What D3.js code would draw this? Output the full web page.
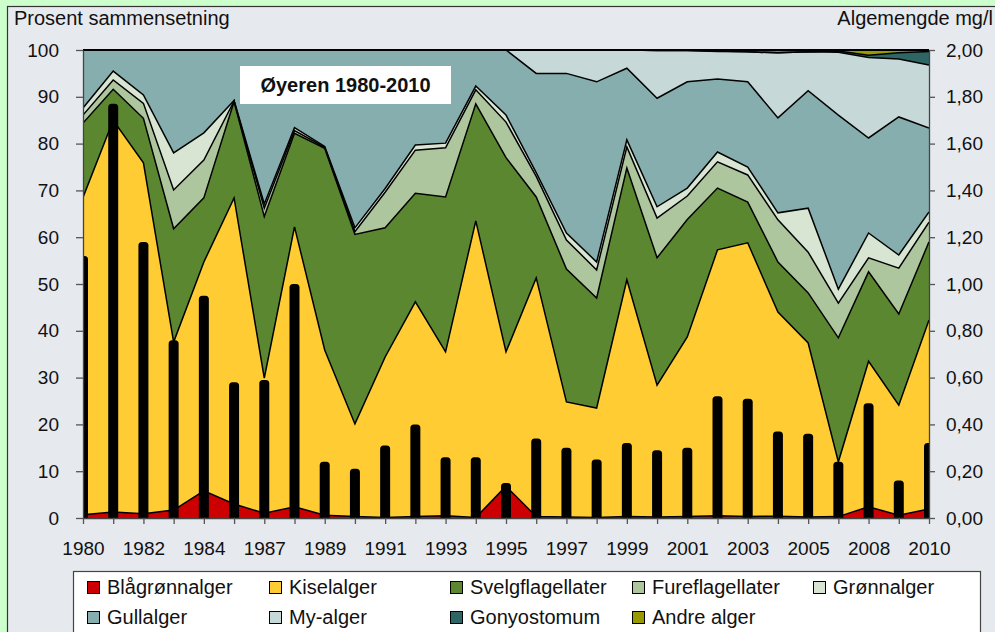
<!DOCTYPE html>
<html>
<head>
<meta charset="utf-8">
<script src="https://cdn.jsdelivr.net/npm/d3@7"></script>
<style>
  body { margin: 0; background: #CCFFCC; }
  svg { display: block; font-family: "Liberation Sans", Arial, sans-serif; }
</style>
</head>
<body>
<div id="chart"></div>
<script>
// years (category axis, every other one labelled)
const years = [1980,1981,1982,1983,1984,1985,1987,1988,1989,1990,1991,1992,1993,1994,1995,
  1996,1997,1998,1999,2000,2001,2002,2003,2004,2005,2006,2008,2009,2010];

// percent composition per group
const blagronnalger = [0.7,1.3,0.9,1.7,5.8,3.0,1.0,2.4,0.6,0.3,0.1,0.3,0.5,0.1,6.8,0.3,0.2,0.1,0.3,0.2,0.3,0.5,0.3,0.4,0.2,0.3,2.4,0.6,1.9];
const kiselalger = [67.8,83.7,75.0,35.9,48.9,65.4,28.9,59.8,35.3,19.8,34.3,45.9,35.0,63.4,28.7,51.0,24.6,23.4,50.6,28.2,38.4,56.8,58.5,43.6,37.2,11.7,31.1,23.5,40.4];
const svelgflagellater = [15.9,6.6,9.5,24.2,13.7,20.6,34.5,20.0,43.1,40.5,27.6,23.2,33.1,25.0,41.5,17.3,28.4,23.5,23.9,27.2,25.1,13.2,8.7,10.7,10.7,26.5,19.1,19.5,16.7];
const fureflagellater = [1.7,2.0,3.2,8.3,8.1,0.1,1.8,0.6,0.2,0.6,7.6,9.2,10.5,3.0,7.6,4.4,6.2,6.0,4.5,8.5,5.0,5.6,5.8,9.0,8.7,7.4,3.0,9.8,4.2];
const gronnalger = [1.5,1.9,1.8,7.9,5.8,0.1,0.9,0.6,0.2,0.8,0.8,1.1,1.0,0.8,1.5,0.8,1.5,1.7,1.5,2.4,1.7,2.1,1.7,1.5,9.4,3.0,5.3,2.8,2.2];
const gullalger = [12.4,4.5,9.6,22.0,17.7,10.8,32.9,16.6,20.6,38.0,29.6,20.3,19.9,7.7,13.9,21.2,34.1,38.5,15.3,23.2,22.7,15.6,18.2,20.3,25.1,37.2,20.3,29.5,17.9];
const myalger = [0,0,0,0,0,0,0,0,0,0,0,0,0,0,0,5.0,5.0,6.8,3.9,10.2,6.7,5.9,6.4,13.9,8.3,13.4,17.2,12.4,13.5];
const gonyostomum = [0,0,0,0,0,0,0,0,0,0,0,0,0,0,0,0,0,0,0,0,0,0.1,0,0,0,0.3,0.5,1.3,2.9];
const andrealger = [0,0,0,0,0,0,0,0,0,0,0,0,0,0,0,0,0,0,0,0.1,0.1,0.2,0.4,0.6,0.4,0.2,1.1,0.6,0.3];

// total algae amount, mg/l (right axis, black bars)
const algemengde = [1.12,1.77,1.18,0.76,0.95,0.58,0.59,1.00,0.24,0.21,0.31,0.40,0.26,0.26,0.15,0.34,0.30,0.25,0.32,0.29,0.30,0.52,0.51,0.37,0.36,0.24,0.49,0.16,0.32];

const groups = [
  { key: 'Blågrønnalger', values: blagronnalger, color: '#CC0000' },
  { key: 'Kiselalger', values: kiselalger, color: '#FFCC33' },
  { key: 'Svelgflagellater', values: svelgflagellater, color: '#5B8731' },
  { key: 'Fureflagellater', values: fureflagellater, color: '#ADC69D' },
  { key: 'Grønnalger', values: gronnalger, color: '#D8E5D3' },
  { key: 'Gullalger', values: gullalger, color: '#86AEAE' },
  { key: 'My-alger', values: myalger, color: '#C7D8D8' },
  { key: 'Gonyostomum', values: gonyostomum, color: '#2E6565' },
  { key: 'Andre alger', values: andrealger, color: '#999900' },
];

const width = 995, height = 632;
const plot = { left: 83, right: 929, top: 50, bottom: 518 };

// table for d3.stack
const table = years.map((y, i) => {
  const row = { year: y };
  groups.forEach(g => row[g.key] = g.values[i]);
  return row;
});

const svg = d3.select('#chart').append('svg')
  .attr('width', width).attr('height', height);

// chart area
svg.append('rect')
  .attr('x', 7.5).attr('y', 6.5)
  .attr('width', 1000).attr('height', 700)
  .attr('fill', '#E6E9EE').attr('stroke', '#333').attr('stroke-width', 1.2);

const x = d3.scalePoint().domain(years).range([plot.left, plot.right]);
const yL = d3.scaleLinear().domain([0, 100]).range([plot.bottom, plot.top]);
const yR = d3.scaleLinear().domain([0, 2]).range([plot.bottom, plot.top]);

const stack = d3.stack()
  .keys(groups.map(g => g.key))
  .offset(d3.stackOffsetExpand);
const series = stack(table);

svg.append('clipPath').attr('id', 'clip')
  .append('rect')
  .attr('x', plot.left).attr('y', plot.top)
  .attr('width', plot.right - plot.left).attr('height', plot.bottom - plot.top);

const g = svg.append('g').attr('clip-path', 'url(#clip)');

const area = d3.area()
  .x(d => x(d.data.year))
  .y0(d => yL(d[0] * 100))
  .y1(d => yL(d[1] * 100));
const topLine = d3.line()
  .x(d => x(d.data.year))
  .y(d => yL(d[1] * 100));

g.selectAll('path.area')
  .data(series)
  .join('path')
  .attr('class', 'area')
  .attr('d', area)
  .attr('fill', (d, i) => groups[i].color);

g.selectAll('path.edge')
  .data(series)
  .join('path')
  .attr('class', 'edge')
  .attr('d', topLine)
  .attr('fill', 'none')
  .attr('stroke', '#000')
  .attr('stroke-width', 1.5)
  .attr('stroke-linejoin', 'miter');

// bars on the secondary axis
const barW = 10;
g.selectAll('rect.bar')
  .data(algemengde)
  .join('rect')
  .attr('class', 'bar')
  .attr('x', (d, i) => x(years[i]) - barW / 2)
  .attr('y', d => yR(d))
  .attr('width', barW)
  .attr('height', d => yR(0) - yR(d) + 6)
  .attr('rx', 3.5)
  .attr('fill', '#000');

// top frame line
svg.append('line')
  .attr('x1', plot.left).attr('x2', plot.right)
  .attr('y1', plot.top).attr('y2', plot.top)
  .attr('stroke', '#000').attr('stroke-width', 2);

// axes
const fmtComma = v => d3.format('.2f')(v).replace('.', ',');

function styleAxis(sel) {
  sel.select('.domain').attr('stroke', '#444').attr('stroke-width', 1.3);
  sel.selectAll('.tick line').attr('stroke', '#555').attr('stroke-width', 1.3);
  sel.selectAll('.tick text')
    .attr('fill', '#111')
    .style('font-size', '19px')
    .style('font-family', '"Liberation Sans", Arial, sans-serif');
}

svg.append('g')
  .attr('transform', `translate(${plot.left},0)`)
  .call(d3.axisLeft(yL).tickValues(d3.range(0, 101, 10)).tickSize(7).tickPadding(17).tickSizeOuter(0))
  .call(styleAxis);

svg.append('g')
  .attr('transform', `translate(${plot.right},0)`)
  .call(d3.axisRight(yR).tickValues(d3.range(0, 11).map(i => i * 0.2)).tickFormat(fmtComma)
    .tickSize(6).tickPadding(11).tickSizeOuter(0))
  .call(styleAxis);

svg.append('g')
  .attr('transform', `translate(0,${plot.bottom})`)
  .call(d3.axisBottom(x).tickFormat((d, i) => i % 2 === 0 ? d : '')
    .tickSize(6).tickPadding(18).tickSizeOuter(0))
  .call(styleAxis);

// axis titles
svg.append('text')
  .attr('x', 14).attr('y', 25)
  .style('font-size', '20px').attr('fill', '#111')
  .text('Prosent sammensetning');
svg.append('text')
  .attr('x', 993).attr('y', 25)
  .attr('text-anchor', 'end')
  .style('font-size', '20px').attr('fill', '#111')
  .text('Algemengde mg/l');

// title box
svg.append('rect')
  .attr('x', 240).attr('y', 66).attr('width', 211).attr('height', 38)
  .attr('fill', '#fff');
svg.append('text')
  .attr('x', 345.5).attr('y', 92)
  .attr('text-anchor', 'middle')
  .style('font-size', '20px').style('font-weight', 'bold').attr('fill', '#111')
  .text('Øyeren 1980-2010');

// legend
svg.append('rect')
  .attr('x', 73.5).attr('y', 571.5).attr('width', 907).attr('height', 80)
  .attr('fill', '#fff').attr('stroke', '#444').attr('stroke-width', 1.2);

const colX = [87, 269, 450, 632, 813];
const rowY = [587, 617];
const leg = svg.append('g').selectAll('g')
  .data(groups)
  .join('g')
  .attr('transform', (d, i) => `translate(${colX[i % 5]},${rowY[Math.floor(i / 5)]})`);
leg.append('rect')
  .attr('x', 0.5).attr('y', -5.5).attr('width', 12).attr('height', 12)
  .attr('fill', d => d.color).attr('stroke', '#000').attr('stroke-width', 1);
leg.append('text')
  .attr('x', 20).attr('y', 7)
  .style('font-size', '20px').attr('fill', '#111')
  .text(d => d.key);
</script>
</body>
</html>
